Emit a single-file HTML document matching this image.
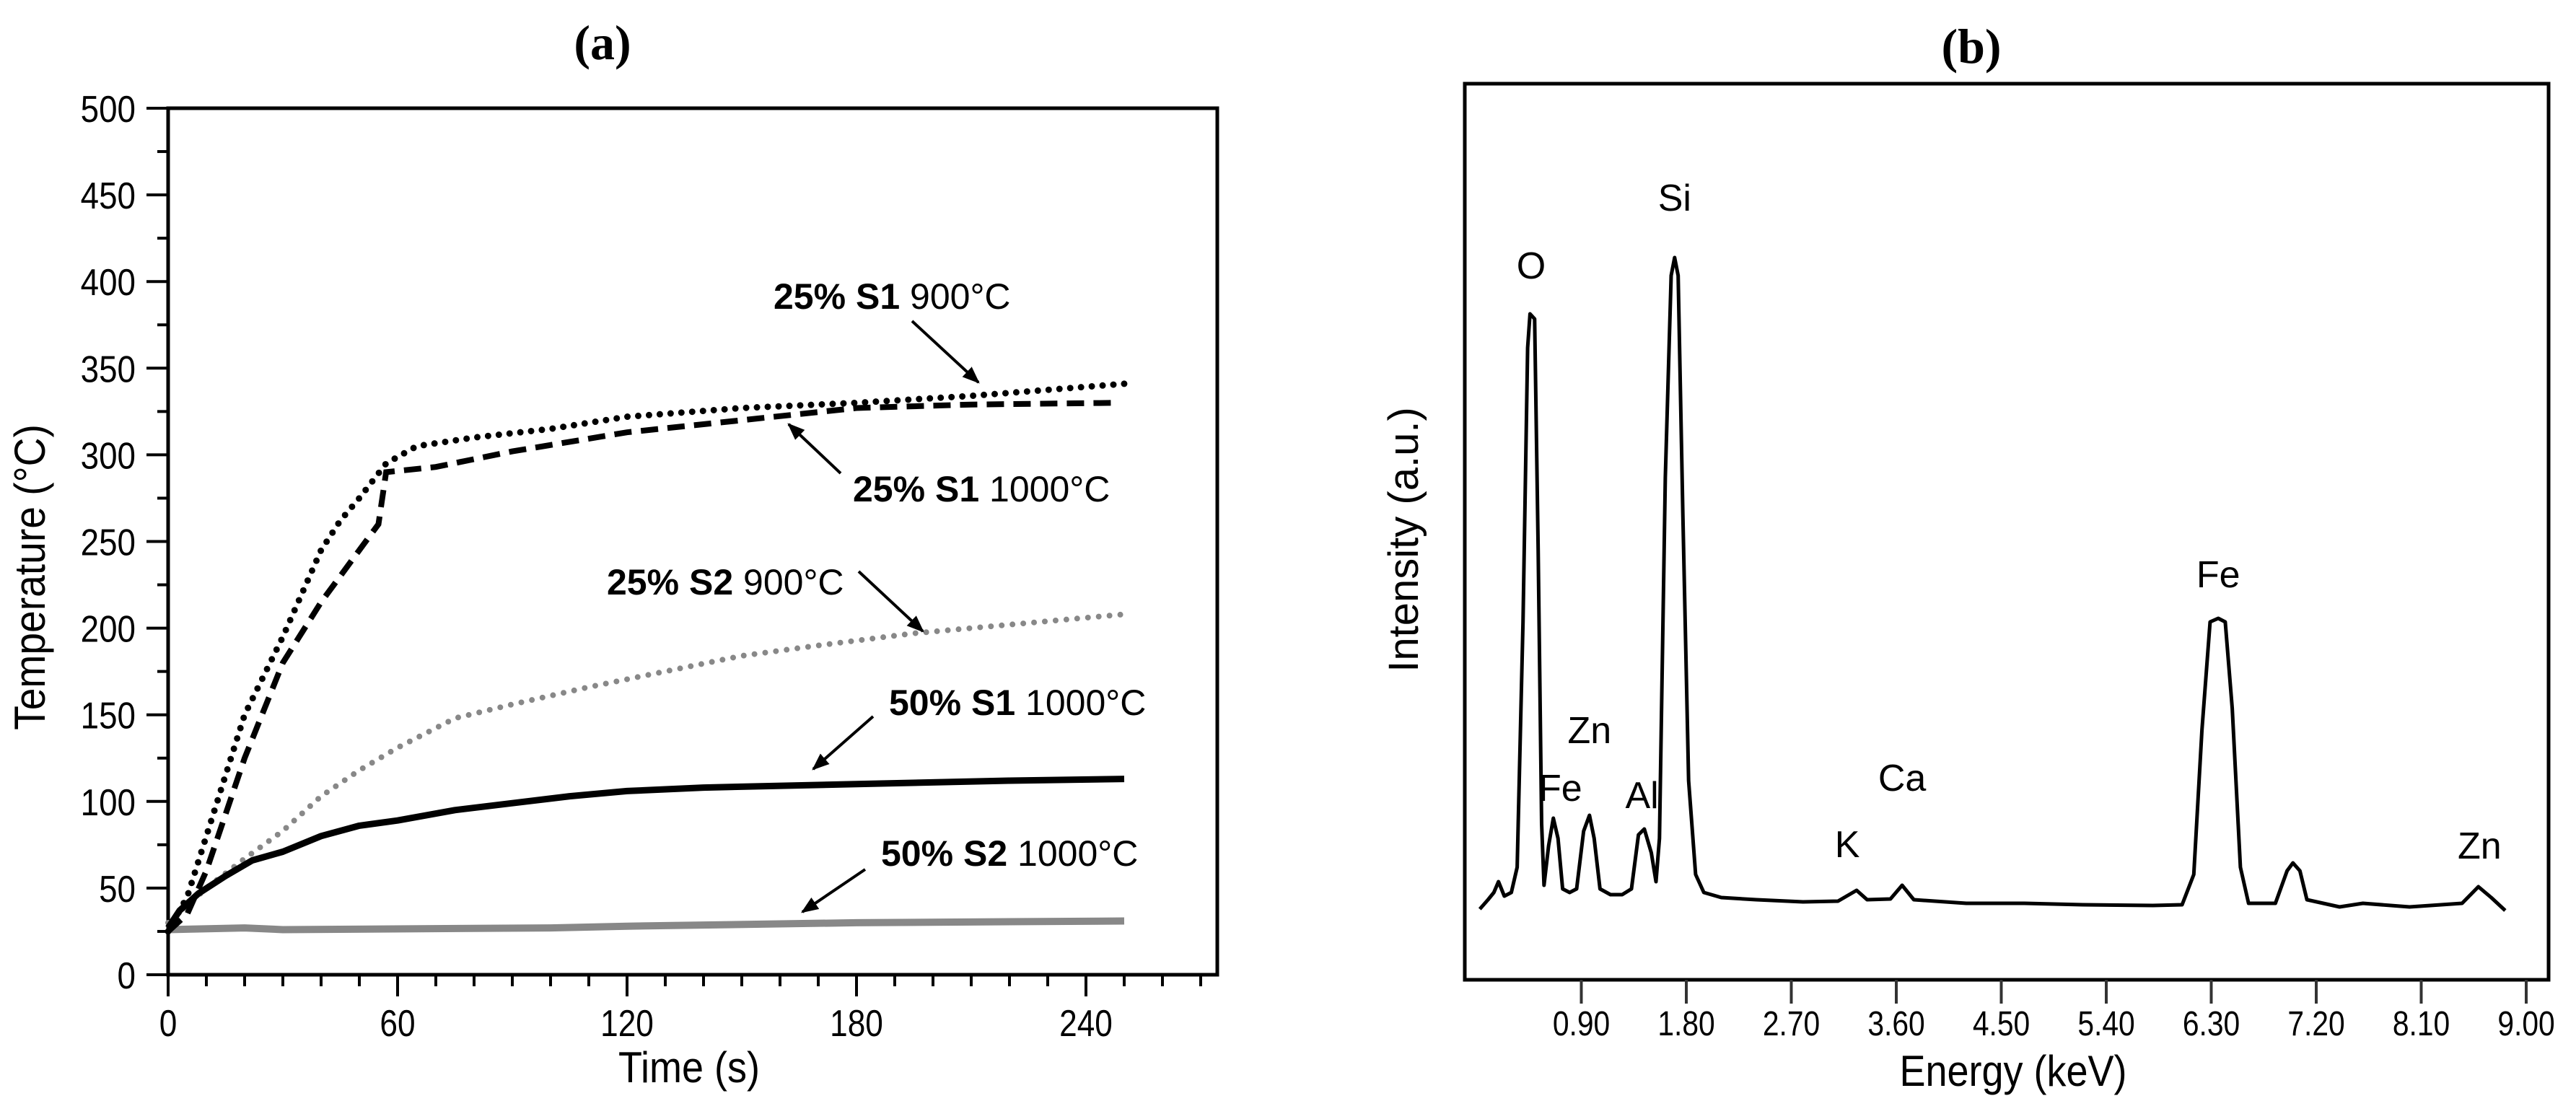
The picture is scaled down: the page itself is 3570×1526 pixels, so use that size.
<!DOCTYPE html>
<html><head><meta charset="utf-8"><style>
html,body{margin:0;padding:0;background:#fff;}
svg{display:block;}
text{font-family:"Liberation Sans",sans-serif;fill:#000;}
</style></head><body>
<svg id="fig" width="3570" height="1526" viewBox="0 0 3570 1526" xmlns="http://www.w3.org/2000/svg">
<rect width="3570" height="1526" fill="#fff"/>
<g id="pa"></g>
<g id="pb"></g>
</svg>
<script>
// ---------- Panel (a) data ----------
const aXTicks = [0, 60, 120, 180, 240];
const aYTicks = [0, 50, 100, 150, 200, 250, 300, 350, 400, 450, 500];
const s1_900_t = [0,5,10,20,30,40,45,50,57,65,80,100,120,150,180,210,250];
const s1_900_v = [25,45,80,150,195,245,262,275,295,305,310,315,322,327,330,334,341];
const s1_1000_t = [0,5,10,20,30,40,50,55,57,70,90,120,150,180,210,248];
const s1_1000_v = [25,35,60,125,180,215,245,260,290,293,302,313,320,327,329,330];
const s2_900_t = [0,10,20,30,40,50,60,75,90,110,130,150,170,195,220,250];
const s2_900_v = [30,50,67,83,103,118,131,148,156,166,175,184,190,197,202,208];
const s1_50_t = [0,3,8,15,22,30,40,50,60,75,90,105,120,140,180,220,250];
const s1_50_v = [27,37,47,57,66,71,80,86,89,95,99,103,106,108,110,112,113];
const s2_50_t = [0,20,30,100,120,180,250];
const s2_50_v = [26,27,26,27,28,30,31];

// ---------- Panel (b) data ----------
const bXTicks = [0.90,1.80,2.70,3.60,4.50,5.40,6.30,7.20,8.10,9.00];
const specE = [0.03,0.10,0.15,0.19,0.24,0.30,0.35,0.40,0.44,0.46,0.50,0.53,0.56,0.58,0.62,0.66,0.70,0.74,0.80,0.86,0.92,0.97,1.01,1.06,1.15,1.25,1.33,1.39,1.44,1.50,1.54,1.57,1.62,1.67,1.70,1.73,1.77,1.82,1.88,1.95,2.10,2.40,2.80,3.10,3.26,3.35,3.55,3.65,3.75,4.20,4.70,5.20,5.80,6.05,6.15,6.22,6.29,6.36,6.42,6.48,6.55,6.62,6.85,6.95,7.00,7.06,7.12,7.40,7.60,8.00,8.45,8.59,8.70,8.82];
const specI = [0.2,1.5,2.5,4.0,2.0,2.5,6,40,78,82.7,82,50,12,3.5,9,12.8,10,3,2.5,3,11,13.2,10,3,2.2,2.2,3,10.5,11.3,8,4,10,60,88,90.5,88,55,18,5,2.5,1.8,1.5,1.2,1.3,2.8,1.5,1.6,3.5,1.5,1.0,1.0,0.8,0.7,0.8,5,25,40,40.5,40,28,6,1,1,5.5,6.6,5.5,1.5,0.5,1,0.5,1,3.3,1.8,0];
const peakNames = ["O","Si","Zn","Fe","Al","K","Ca","Fe","Zn"];
const peakLabelE = [0.47,1.70,0.97,0.72,1.42,3.18,3.65,6.36,8.60];
const peakLabelI = [87.6,97,23.2,15.2,14.2,7.4,16.6,44.8,7.2];

const NS = "http://www.w3.org/2000/svg";
function mk(parent, tag, attrs){ const e=document.createElementNS(NS,tag); for(const k in attrs) e.setAttribute(k,attrs[k]); parent.appendChild(e); return e; }

// ===== Panel A =====
const pa = document.getElementById('pa');
const ax = t => 233 + t*5.3;
const ay = v => 1351 - v*2.402;
function pathOf(ts, vs, fx, fy){ return ts.map((t,i)=>(i?'L':'M')+fx(t).toFixed(1)+' '+fy(vs[i]).toFixed(1)).join(' '); }

let e = mk(pa,'rect',{x:233,y:150,width:1454,height:1201,fill:'none',stroke:'#000','stroke-width':5});


for(let t=0;t<=270;t+=10){
  const major = t%60===0;
  e = mk(pa,'line',{x1:ax(t),x2:ax(t),y1:1351,y2:1351+(major?30:16),stroke:'#000','stroke-width':4});
  
  
}
aXTicks.forEach(t=>{
  e = mk(pa,'text',{'font-size':52,'text-anchor':'middle',transform:'translate('+ax(t)+',1436) scale(0.85,1)'}); e.textContent=t;
  
  
});
for(let v=0;v<=500;v+=25){
  const major = v%50===0;
  e = mk(pa,'line',{x1:233-(major?30:15),x2:233,y1:ay(v),y2:ay(v),stroke:'#000','stroke-width':4});
  
  
}
aYTicks.forEach(v=>{
  e = mk(pa,'text',{'font-size':52,'text-anchor':'end',transform:'translate(188,'+(ay(v)+19)+') scale(0.88,1)'}); e.textContent=v;
  
  
});
e = mk(pa,'text',{'font-size':60,'text-anchor':'middle',transform:'translate(955,1500) scale(0.9,1)'}); e.textContent='Time (s)';


e = mk(pa,'text',{x:0,y:0,'font-size':60,'text-anchor':'middle',transform:'translate(62,800) rotate(-90) scale(0.92,1)'}); e.textContent='Temperature (°C)';


e = mk(pa,'text',{x:835,y:82,'font-size':68,'text-anchor':'middle','font-weight':'bold',style:'font-family:"Liberation Serif",serif'}); e.textContent='(a)';



// series
e = mk(pa,'path',{d:pathOf(s2_50_t,s2_50_v,ax,ay),fill:'none',stroke:'#888','stroke-width':10,'stroke-linejoin':'round'});


e = mk(pa,'path',{d:pathOf(s2_900_t,s2_900_v,ax,ay),fill:'none',stroke:'#888','stroke-width':8,'stroke-linecap':'round','stroke-dasharray':'0 15'});


e = mk(pa,'path',{d:pathOf(s1_50_t,s1_50_v,ax,ay),fill:'none',stroke:'#000','stroke-width':9,'stroke-linejoin':'round'});


e = mk(pa,'path',{d:pathOf(s1_1000_t,s1_1000_v,ax,ay),fill:'none',stroke:'#000','stroke-width':8,'stroke-dasharray':'24 13'});


e = mk(pa,'path',{d:pathOf(s1_900_t,s1_900_v,ax,ay),fill:'none',stroke:'#000','stroke-width':9,'stroke-linecap':'round','stroke-dasharray':'0 15'});



// annotations
const defs = mk(document.getElementById('fig'),'defs',{});
const mkr = mk(defs,'marker',{id:'ah',viewBox:'0 0 10 10',refX:9,refY:5,markerWidth:6,markerHeight:6,orient:'auto',markerUnits:'strokeWidth'});
mk(mkr,'path',{d:'M0 1 L10 5 L0 9 z',fill:'#000'});
function annot(name,bold,rest,x,y,x1,y1,x2,y2){
  const t = mk(pa,'text',{x:x,y:y,'font-size':50});
  
  
  const b = mk(t,'tspan',{'font-weight':'bold'}); b.textContent=bold;
  const r = mk(t,'tspan',{}); r.textContent=' '+rest;
  const l = mk(pa,'line',{x1:x1,y1:y1,x2:x2,y2:y2,stroke:'#000','stroke-width':4,'marker-end':'url(#ah)'});
  
  
}
annot('label-25-s1-900','25% S1','900°C',1072,428,1264,445,1356,530);
annot('label-25-s1-1000','25% S1','1000°C',1182,695,1165,656,1093,588);
annot('label-25-s2-900','25% S2','900°C',841,824,1190,792,1279,875);
annot('label-50-s1-1000','50% S1','1000°C',1232,991,1210,993,1127,1066);
annot('label-50-s2-1000','50% S2','1000°C',1221,1200,1199,1205,1112,1264);

// ===== Panel B =====
const pb = document.getElementById('pb');
const bx = k => 2046 + k*(145.5/0.9);
const by = i => 1262 - i*10;
e = mk(pb,'rect',{x:2030,y:116,width:1502,height:1242,fill:'none',stroke:'#000','stroke-width':5});


bXTicks.forEach(k=>{
  e = mk(pb,'line',{x1:bx(k),x2:bx(k),y1:1358,y2:1391,stroke:'#333','stroke-width':4});
  
  
  e = mk(pb,'text',{'font-size':48,'text-anchor':'middle',transform:'translate('+bx(k)+',1435) scale(0.85,1)'}); e.textContent=k.toFixed(2);
  
  
});
e = mk(pb,'text',{'font-size':60,'text-anchor':'middle',transform:'translate(2790,1505) scale(0.9,1)'}); e.textContent='Energy (keV)';


e = mk(pb,'text',{'font-size':58,'text-anchor':'middle',transform:'translate(1965,748) rotate(-90)'}); e.textContent='Intensity (a.u.)';


e = mk(pb,'text',{x:2732,y:87,'font-size':68,'text-anchor':'middle','font-weight':'bold',style:'font-family:"Liberation Serif",serif'}); e.textContent='(b)';


e = mk(pb,'path',{d:pathOf(specE,specI,bx,by),fill:'none',stroke:'#000','stroke-width':5,'stroke-linejoin':'round'});


peakNames.forEach((n,i)=>{
  e = mk(pb,'text',{x:bx(peakLabelE[i]),y:by(peakLabelI[i]),'font-size':52,'text-anchor':'middle'}); e.textContent=n;
  
  
});
</script>
</body></html>
